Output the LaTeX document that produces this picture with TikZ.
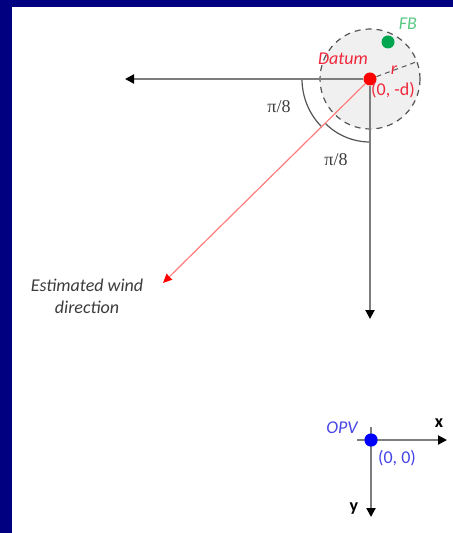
\documentclass[tikz,border=0pt]{standalone}
\usepackage{fontspec}
\setmainfont{Carlito}
\newfontfamily\pifamily{Liberation Serif}
\usepackage{tikz}
\usetikzlibrary{arrows.meta, positioning}
\definecolor{framenavy}{RGB}{0,0,128}
\definecolor{linegray}{RGB}{125,125,125}
\definecolor{arcgray}{RGB}{85,85,85}
\definecolor{zonefill}{RGB}{240,240,240}
\definecolor{dotred}{RGB}{255,0,0}
\definecolor{txtred}{RGB}{240,40,60}
\definecolor{windred}{RGB}{255,125,125}
\definecolor{dotgreen}{RGB}{0,165,80}
\definecolor{txtgreen}{RGB}{90,200,130}
\definecolor{dotblue}{RGB}{0,0,255}
\definecolor{txtblue}{RGB}{70,70,230}
\definecolor{txtgray}{RGB}{60,60,60}
\tikzset{
  axisline/.style={line width=1pt, color=linegray,
    -{Triangle[length=4.5pt, width=4.5pt, color=black]}},
  windline/.style={line width=0.6pt, color=windred,
    -{Triangle[length=4.5pt, width=4pt, color=dotred]}},
  anglearc/.style={line width=0.6pt, color=arcgray},
  zone/.style={circle, draw=arcgray, fill=zonefill, dashed,
    dash pattern=on 3pt off 2.5pt, line width=0.6pt, inner sep=0pt},
  dot/.style={circle, inner sep=0pt, minimum size=6.5pt},
  reddot/.style={dot, fill=dotred},
  greendot/.style={dot, fill=dotgreen},
  bluedot/.style={dot, fill=dotblue},
  lbl/.style={font=\small, inner sep=1pt}
}

\begin{document}
\begin{tikzpicture}[x=0.5pt, y=-0.5pt, font=\small]
  % frame
  \fill[framenavy] (0,0) rectangle (453,533);
  \fill[white] (12,7) rectangle (453,533);
  \useasboundingbox (0,0) rectangle (453,533);

  % datum and search zone
  \node[zone, minimum size=50pt] (zone) at (370,79) {};
  \node[reddot] (datum) at (370,79) {};
  \node[greendot] (fb) at (388,42) {};
  \coordinate (west) at (125,79);
  \coordinate (south) at (370,319);
  \coordinate (windend) at (163,283);
  \coordinate (redge) at (416,62);

  \draw[anglearc] (datum.center) ++(180:68) arc[start angle=180, end angle=135, radius=68];
  \draw[anglearc] (datum.center) ++(135:63) arc[start angle=135, end angle=90, radius=63];
  \draw[axisline] (datum) -- (west);
  \draw[axisline] (datum) -- (south);
  \draw[windline] (datum) -- (windend);
  \draw[arcgray, dashed, dash pattern=on 2.5pt off 2pt, line width=0.5pt] (datum) -- (redge);

  \node[lbl, text=txtred, font=\small\itshape] at (343,59) {Datum};
  \node[lbl, text=txtred, font=\small\itshape] at (394,70) {r};
  \node[lbl, text=txtred] at (393,90) {(0, -d)};
  \node[lbl, text=txtgreen, font=\small\itshape] at (408,24) {FB};
  \node[lbl, font=\pifamily\small, text=txtgray] (pione) at (279,107) {π/8};
  \node[lbl, font=\pifamily\small, text=txtgray] (pitwo) at (336,160) {π/8};
  \node[lbl, text=txtgray, font=\small\itshape, align=center] (wind) at (87,296) {Estimated wind\\direction};

  % observer frame
  \node[bluedot] (opv) at (371,440) {};
  \coordinate (xstart) at (357,440);
  \coordinate (xend) at (447,440);
  \coordinate (ystart) at (371,427);
  \coordinate (yend) at (371,517);
  \draw[axisline] (xstart) -- (xend);
  \draw[axisline] (ystart) -- (yend);
  \node[bluedot] at (opv) {};
  \node[lbl, text=txtblue, font=\small\itshape] at (342,428) {OPV};
  \node[lbl, text=txtblue] at (397,458) {(0, 0)};
  \node[lbl, font=\small\bfseries] at (439,423) {x};
  \node[lbl, font=\small\bfseries] at (354,509) {y};
\end{tikzpicture}
\end{document}
